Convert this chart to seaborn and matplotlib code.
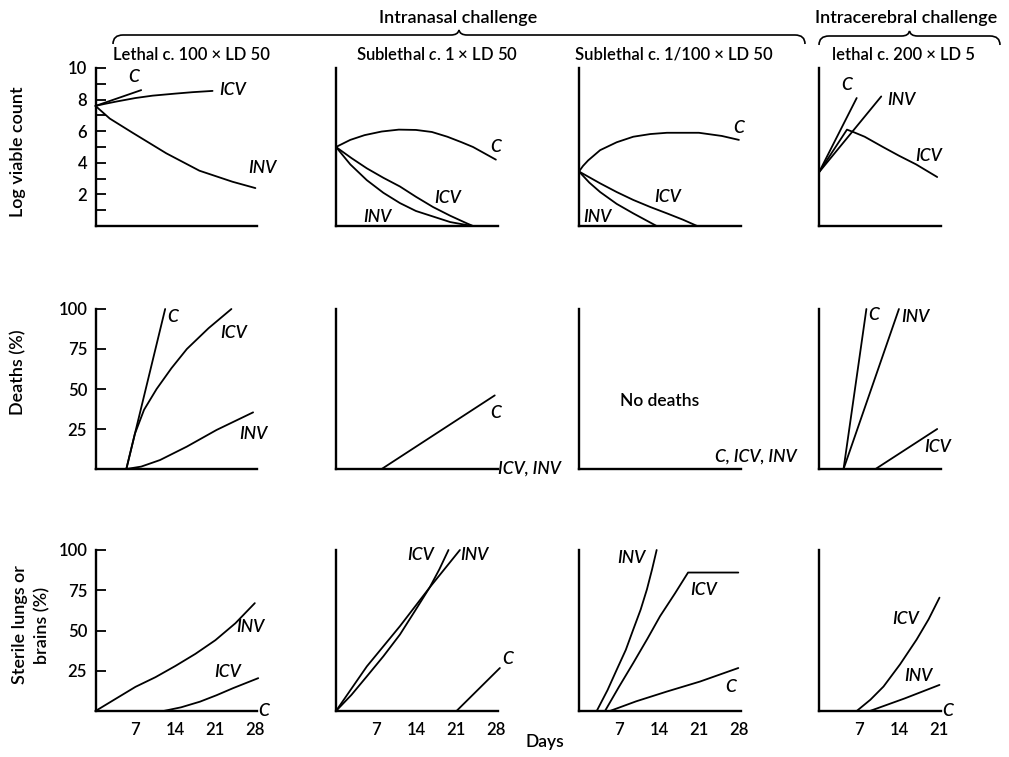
import matplotlib
matplotlib.use("Agg")
import matplotlib.pyplot as plt
import seaborn as sns
import pandas as pd
from matplotlib.path import Path
from matplotlib.patches import PathPatch

# ---------------- data ----------------
# Row 1: log viable count
p11_c_days = [0, 4, 8];                         p11_c = [7.6, 8.1, 8.6]
p11_icv_days = [0, 1.5, 3.7, 7, 10, 14, 17, 20.5]; p11_icv = [7.6, 7.72, 7.88, 8.1, 8.25, 8.38, 8.47, 8.55]
p11_inv_days = [0, 2.5, 6.5, 12.4, 18.2, 24, 28]; p11_inv = [7.6, 6.8, 5.9, 4.6, 3.5, 2.8, 2.4]

p12_c_days = [0, 2.5, 5, 8, 11, 14, 16.8, 19.5, 22, 24, 28]
p12_c = [5.0, 5.45, 5.75, 5.98, 6.1, 6.08, 5.95, 5.65, 5.3, 5.0, 4.2]
p12_icv_days = [0, 2.7, 5.4, 8.3, 11.2, 14, 17, 20, 22.9, 24]
p12_icv = [5.0, 4.3, 3.65, 3.05, 2.5, 1.85, 1.2, 0.65, 0.17, 0]
p12_inv_days = [0, 2.5, 5.4, 8.3, 11.2, 14, 17, 20, 22.9, 24]
p12_inv = [5.0, 3.9, 2.9, 2.1, 1.45, 0.95, 0.6, 0.25, 0.06, 0]

p13_c_days = [0, 0.7, 1.6, 3.7, 6.6, 9.5, 12.5, 15.4, 21, 25, 28]
p13_c = [3.45, 3.8, 4.15, 4.8, 5.3, 5.65, 5.82, 5.9, 5.9, 5.7, 5.45]
p13_icv_days = [0, 3.7, 6.6, 9.5, 12.5, 15.4, 18.2, 20.7]
p13_icv = [3.45, 2.7, 2.15, 1.65, 1.2, 0.8, 0.4, 0]
p13_inv_days = [0, 1.8, 3.7, 6.6, 9.5, 13.6]
p13_inv = [3.45, 2.75, 2.15, 1.4, 0.8, 0]

p14_c_days = [0, 6.6];                          p14_c = [3.4, 8.1]
p14_inv_days = [0, 10.9];                       p14_inv = [3.4, 8.2]
p14_icv_days = [0, 4.9, 6, 8, 11.2, 14, 17, 20.7]
p14_icv = [3.4, 6.1, 5.95, 5.65, 5.0, 4.45, 3.9, 3.1]

# Row 2: deaths (%)
p21_c_days = [0, 5.4, 12.2];                    p21_c = [0, 0, 100]
p21_icv_days = [5.4, 6.9, 8.5, 10.7, 13.3, 16, 19.8, 23.8]
p21_icv = [0, 22, 37, 50, 63, 75, 88, 100]
p21_inv_days = [5.4, 8, 11.3, 16, 21.2, 27.6];  p21_inv = [0, 1.5, 5.6, 14, 24.4, 35.4]

p22_c_days = [8, 27.8];                         p22_c = [0, 46]
p22_icv_days = [0, 28];                         p22_icv = [0, 0]
p22_inv_days = [0, 28];                         p22_inv = [0, 0]

p23_all_days = [0, 28];                         p23_all = [0, 0]

p24_c_days = [0, 4.3, 8.3];                     p24_c = [0, 0, 100]
p24_inv_days = [4.3, 14];                       p24_inv = [0, 100]
p24_icv_days = [0, 9.9, 20.7];                  p24_icv = [0, 0, 25]

# Row 3: sterile lungs or brains (%)
p31_inv_days = [0, 3.5, 7, 10.5, 14, 17.5, 21, 24.5, 27.9]
p31_inv = [0, 7.5, 15, 21, 28, 35.5, 44, 54.5, 67]
p31_icv_days = [0, 11.9, 15, 18.3, 21.2, 24.1, 28.5]
p31_icv = [0, 0, 2.3, 5.8, 9.8, 14.2, 20.4]
p31_c_days = [0, 28];                           p31_c = [0, 0]

p32_icv_days = [0, 2.7, 5.4, 8.3, 11.2, 13.8, 16.4, 18.1, 19.7]
p32_icv = [0, 10, 21.5, 34, 47.5, 62, 76.7, 88, 100]
p32_inv_days = [0, 5.4, 11.2, 16.4, 21.7];      p32_inv = [0, 27.7, 52.7, 76.7, 100]
p32_c_days = [0, 21.1, 28.7];                   p32_c = [0, 0, 26.7]

p33_inv_days = [0, 3.1, 5, 6.6, 8.2, 9.5, 10.8, 11.9, 12.8, 13.6]
p33_inv = [0, 0, 13, 25.6, 38, 50.6, 63, 75.6, 88, 100]
p33_icv_days = [0, 4.55, 7, 9.5, 12, 14.2, 16.8, 19.1, 27.9]
p33_icv = [0, 0, 15, 29.8, 45, 58.9, 73, 86, 86]
p33_c_days = [0, 5.4, 10, 15.4, 21.2, 27.9];    p33_c = [0, 0, 6, 12.1, 18.3, 26.7]

p34_icv_days = [0, 6.6, 9, 11.3, 14.2, 17.1, 19.2, 21.1]
p34_icv = [0, 0, 7, 15.2, 29, 44.4, 57, 70.4]
p34_inv_days = [0, 8.9, 15, 21.1];              p34_inv = [0, 0, 7.8, 16.2]
p34_c_days = [0, 21];                           p34_c = [0, 0]

curves = {
    (0, 0): [(p11_c_days, p11_c), (p11_icv_days, p11_icv), (p11_inv_days, p11_inv)],
    (0, 1): [(p12_c_days, p12_c), (p12_icv_days, p12_icv), (p12_inv_days, p12_inv)],
    (0, 2): [(p13_c_days, p13_c), (p13_icv_days, p13_icv), (p13_inv_days, p13_inv)],
    (0, 3): [(p14_c_days, p14_c), (p14_inv_days, p14_inv), (p14_icv_days, p14_icv)],
    (1, 0): [(p21_c_days, p21_c), (p21_icv_days, p21_icv), (p21_inv_days, p21_inv)],
    (1, 1): [(p22_c_days, p22_c), (p22_icv_days, p22_icv), (p22_inv_days, p22_inv)],
    (1, 2): [(p23_all_days, p23_all)],
    (1, 3): [(p24_c_days, p24_c), (p24_inv_days, p24_inv), (p24_icv_days, p24_icv)],
    (2, 0): [(p31_inv_days, p31_inv), (p31_icv_days, p31_icv), (p31_c_days, p31_c)],
    (2, 1): [(p32_icv_days, p32_icv), (p32_inv_days, p32_inv), (p32_c_days, p32_c)],
    (2, 2): [(p33_inv_days, p33_inv), (p33_icv_days, p33_icv), (p33_c_days, p33_c)],
    (2, 3): [(p34_icv_days, p34_icv), (p34_inv_days, p34_inv), (p34_c_days, p34_c)],
}

# curve labels: (row, col, day, value, text, ha)
curve_labels = [
    (0, 0, 6.6, 9.4, "C", "center"), (0, 0, 21.6, 8.6, "ICV", "left"), (0, 0, 29.2, 3.7, "INV", "center"),
    (0, 1, 28.0, 5.0, "C", "center"), (0, 1, 19.5, 1.8, "ICV", "center"), (0, 1, 7.2, 0.55, "INV", "center"),
    (0, 2, 28.0, 6.2, "C", "center"), (0, 2, 15.5, 1.85, "ICV", "center"), (0, 2, 3.2, 0.6, "INV", "center"),
    (0, 3, 4.9, 8.9, "C", "center"), (0, 3, 14.4, 8.0, "INV", "center"), (0, 3, 19.2, 4.4, "ICV", "center"),
    (1, 0, 13.6, 95, "C", "center"), (1, 0, 24.2, 85, "ICV", "center"), (1, 0, 27.6, 22, "INV", "center"),
    (1, 1, 28.0, 35, "C", "center"), (1, 1, 28.3, 0, "ICV, INV", "left"),
    (1, 2, 31.0, 8, "C, ICV, INV", "center"),
    (1, 3, 9.6, 96, "C", "center"), (1, 3, 16.9, 95, "INV", "center"), (1, 3, 20.8, 14, "ICV", "center"),
    (2, 0, 27.2, 52, "INV", "center"), (2, 0, 23.2, 24, "ICV", "center"), (2, 0, 29.4, 0, "C", "center"),
    (2, 1, 14.9, 97, "ICV", "center"), (2, 1, 24.2, 97, "INV", "center"), (2, 1, 30.0, 32, "C", "center"),
    (2, 2, 9.1, 95, "INV", "center"), (2, 2, 21.9, 75, "ICV", "center"), (2, 2, 26.6, 15, "C", "center"),
    (2, 3, 15.1, 57, "ICV", "center"), (2, 3, 17.4, 22, "INV", "center"), (2, 3, 22.6, 0, "C", "center"),
]

col_titles = ["Lethal c. 100 \u00d7 LD 50", "Sublethal $\\mathit{c}$. 1 \u00d7 LD 50",
              "Sublethal c. 1/100 \u00d7 LD 50", "lethal c. 200 \u00d7 LD 5"]
row_ylabels = ["Log viable count", "Deaths (%)", "Sterile lungs or\nbrains (%)"]
row1_ticks = [2, 4, 6, 8, 10]
row1_minor = [1, 3, 5, 7, 9]
pct_ticks = [25, 50, 75, 100]
day_ticks_28 = [7, 14, 21, 28]
day_ticks_21 = [7, 14, 21]

# ---------------- style ----------------
sns.set_theme(style="white")
FONT = ["Lato", "DejaVu Sans"]
plt.rcParams["font.family"] = FONT
plt.rcParams["font.weight"] = "semibold"
plt.rcParams["mathtext.fontset"] = "custom"
plt.rcParams["mathtext.rm"] = "Lato:semibold"
plt.rcParams["mathtext.it"] = "Lato:italic:semibold"

W, H = 1009, 757
fig = plt.figure(figsize=(W / 100, H / 100), dpi=100)
fig.patch.set_facecolor("white")

PXD = 5.71
cols = [(95.5, 28.3, day_ticks_28), (336, 28.3, day_ticks_28), (579, 28.3, day_ticks_28), (819, 21.3, day_ticks_21)]
rows = [(226, 158, 10), (469, 160, 100), (711, 161, 100)]

FS = 12.5
axes = {}
for r, (base, hpx, ymax) in enumerate(rows):
    for c, (x0, xmax, xt) in enumerate(cols):
        ax = fig.add_axes([x0 / W, 1 - base / H, xmax * PXD / W, hpx / H])
        ax.set_facecolor("none")
        for (xd, yd) in curves[(r, c)]:
            df = pd.DataFrame({"day": xd, "val": yd})
            sns.lineplot(data=df, x="day", y="val", ax=ax, color="black", linewidth=1.3,
                         estimator=None, sort=False, legend=False)
            ax.lines[-1].set_clip_on(False)
        ax.set_xlim(0, xmax)
        ax.set_ylim(0, ymax)
        ax.set_xlabel("")
        ax.set_ylabel("")
        for s in ["top", "right"]:
            ax.spines[s].set_visible(False)
        for s in ["left", "bottom"]:
            ax.spines[s].set_linewidth(1.7)
            ax.spines[s].set_color("black")
        if r == 2:
            ax.set_xticks(xt)
            ax.set_xticklabels([str(t) for t in xt], fontsize=12, fontweight="semibold")
            ax.tick_params(axis="x", length=0, pad=8, colors="black")
        else:
            ax.set_xticks([])
        if c == 0:
            if r == 0:
                ax.set_yticks(row1_ticks)
                ax.set_yticks(row1_minor, minor=True)
                ax.set_yticklabels([str(t) for t in row1_ticks], fontsize=12, fontweight="semibold")
            else:
                ax.set_yticks(pct_ticks)
                ax.set_yticklabels([str(t) for t in pct_ticks], fontsize=12, fontweight="semibold")
            ax.tick_params(axis="y", which="both", direction="in", length=7, width=1.3,
                           pad=6, left=True, colors="black")
        else:
            ax.set_yticks([])
        axes[(r, c)] = ax

for (r, c, xd, yd, txt, ha) in curve_labels:
    axes[(r, c)].text(xd, yd, txt, ha=ha, va="center", fontsize=FS, style="italic",
                      color="black", clip_on=False)

axes[(1, 2)].text(14.2, 42.5, "No deaths", ha="center", va="center", fontsize=FS, color="black")

# ---------------- figure texts ----------------
def ftext(x, y, s, **kw):
    fig.text(x / W, 1 - y / H, s, color="black", **kw)

for cx, t in zip([191, 437, 674, 904], col_titles):
    ftext(cx, 55, t, ha="center", va="center", fontsize=12)

ftext(458, 18, "Intranasal challenge", ha="center", va="center", fontsize=13)
ftext(906, 18, "Intracerebral challenge", ha="center", va="center", fontsize=13)

ftext(18, 152, row_ylabels[0], rotation=90, ha="center", va="center", fontsize=13)
ftext(18, 372, row_ylabels[1], rotation=90, ha="center", va="center", fontsize=13)
ftext(31, 625, row_ylabels[2], rotation=90, ha="center", va="center", fontsize=13,
      multialignment="center", linespacing=1.5)
ftext(545, 742, "Days", ha="center", va="center", fontsize=12.5)


def brace(x0, x1, y):
    xc = (x0 + x1) / 2
    pts = [(x0, y + 9), (x0, y), (x0 + 10, y), (xc - 8, y), (xc - 1, y), (xc, y - 5),
           (xc + 1, y), (xc + 8, y), (x1 - 10, y), (x1, y), (x1, y + 9)]
    codes = [Path.MOVETO, Path.CURVE3, Path.CURVE3, Path.LINETO, Path.CURVE3, Path.CURVE3,
             Path.CURVE3, Path.CURVE3, Path.LINETO, Path.CURVE3, Path.CURVE3]
    pts = [(px / W, 1 - py / H) for px, py in pts]
    patch = PathPatch(Path(pts, codes), facecolor="none", edgecolor="black", linewidth=1.2,
                      transform=fig.transFigure)
    fig.patches.append(patch)

brace(113, 805, 35)
brace(819, 1000, 36)

fig.savefig("out.png", dpi=100, facecolor="white")
